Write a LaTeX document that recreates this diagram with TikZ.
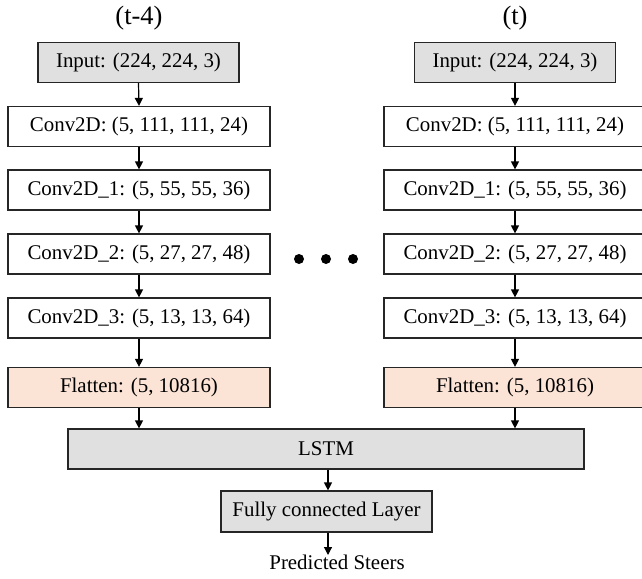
\documentclass[tikz,border=0pt]{standalone}
\usepackage{fontspec}
\setmainfont{Liberation Serif}
\usetikzlibrary{arrows.meta}
\definecolor{boxgray}{HTML}{E0E0E0}
\definecolor{peach}{HTML}{FBE3D6}
\tikzset{
  layer/.style={draw=black!85, line width=1.2pt, minimum height=40pt, inner sep=0pt,
    font=\fontsize{20.9}{24}\selectfont},
  convbox/.style={layer, fill=white, minimum width=262pt},
  inbox/.style={layer, fill=boxgray, minimum width=201pt},
  flatbox/.style={layer, fill=peach, minimum width=262pt},
  conn/.style={line width=1.2pt, -{Triangle[length=8pt,width=8pt]}},
  ttl/.style={font=\fontsize{26.5}{30}\selectfont, inner sep=0pt}
}
\begin{document}
\begin{tikzpicture}[x=1pt,y=-1pt]
\useasboundingbox (0,0) rectangle (642,578);
\clip (0,0) rectangle (642,578);
% left column
\node[ttl] (tL) at (139,18) {(t-4)};
\node[inbox] (inL) at (138.5,62.5) {Input: (224, 224, 3)};
\node[convbox] (c0L) at (139,126.5) {Conv2D: (5, 111, 111, 24)};
\node[convbox] (c1L) at (139,190) {Conv2D\_1: (5, 55, 55, 36)};
\node[convbox] (c2L) at (139,254) {Conv2D\_2: (5, 27, 27, 48)};
\node[convbox] (c3L) at (139,318) {Conv2D\_3: (5, 13, 13, 64)};
\node[flatbox] (flL) at (139,387.5) {Flatten: (5, 10816)};
% right column
\node[ttl] (tR) at (515,18) {(t)};
\node[inbox] (inR) at (515,62.5) {Input: (224, 224, 3)};
\node[convbox] (c0R) at (515,126.5) {Conv2D: (5, 111, 111, 24)};
\node[convbox] (c1R) at (515,190) {Conv2D\_1: (5, 55, 55, 36)};
\node[convbox] (c2R) at (515,254) {Conv2D\_2: (5, 27, 27, 48)};
\node[convbox] (c3R) at (515,318) {Conv2D\_3: (5, 13, 13, 64)};
\node[flatbox] (flR) at (515,387.5) {Flatten: (5, 10816)};
% bottom
\node[layer, fill=boxgray, minimum width=516pt] (lstm) at (326,449) {LSTM};
\node[layer, fill=boxgray, minimum width=211pt, minimum height=41pt] (fc) at (326.5,511.5) {Fully connected Layer};
\node[font=\fontsize{20.9}{24}\selectfont, inner sep=0pt, anchor=north] (out) at (337,555) {Predicted Steers};
% dots
\foreach \x in {299,326,353} \fill (\x,259) circle (5pt);
% arrows
\foreach \a/\b in {inL/c0L,c0L/c1L,c1L/c2L,c2L/c3L,c3L/flL,inR/c0R,c0R/c1R,c1R/c2R,c2R/c3R,c3R/flR}
  \draw[conn] (\a.south) -- (\b.north);
\draw[conn] (flL.south) -- (flL.south |- lstm.north);
\draw[conn] (flR.south) -- (flR.south |- lstm.north);
\draw[conn] (lstm.south -| 328,0) -- (fc.north -| 328,0);
\draw[conn] (fc.south -| 328,0) -- (out.north -| 328,0);
\end{tikzpicture}
\end{document}
